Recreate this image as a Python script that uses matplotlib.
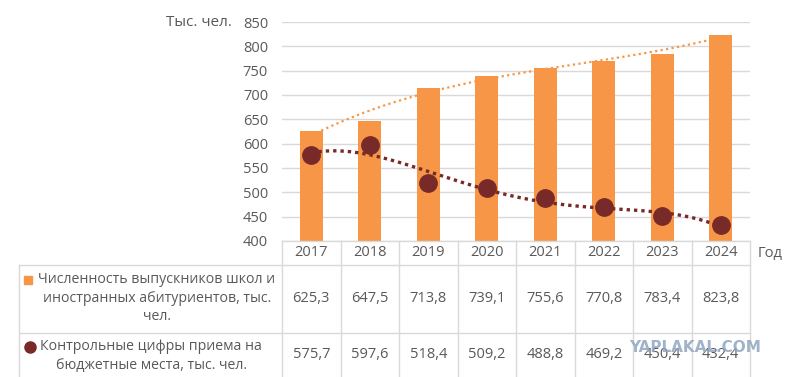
import numpy as np
import matplotlib
matplotlib.use("Agg")
import matplotlib.pyplot as plt
from matplotlib.lines import Line2D
from matplotlib.patches import Rectangle

plt.rcParams['font.family'] = ['Open Sans', 'DejaVu Sans']

years = ["2017", "2018", "2019", "2020", "2021", "2022", "2023", "2024"]
graduates = [625.3, 647.5, 713.8, 739.1, 755.6, 770.8, 783.4, 823.8]
budget = [575.7, 597.6, 518.4, 509.2, 488.8, 469.2, 450.4, 432.4]
yticks = [400, 450, 500, 550, 600, 650, 700, 750, 800, 850]
label_grad = "Численность выпускников школ и\nиностранных абитуриентов, тыс.\nчел."
label_budget = "Контрольные цифры приема на\nбюджетные места, тыс. чел."

BAR = "#F79646"
DOT = "#772A28"
TXT = "#595959"
GRID = "#D9D9D9"

W, H = 788, 377
fig = plt.figure(figsize=(W / 100, H / 100), dpi=100)

def fx(px):
    return px / W

def fy(py):
    return 1 - py / H

x0, x1, ytop, ybot = 282, 750, 22, 241
ax = fig.add_axes([fx(x0), fy(ybot), fx(x1) - fx(x0), fy(ytop) - fy(ybot)])
n = len(years)
x = np.arange(n)
ax.set_xlim(-0.5, n - 0.5)
ax.set_ylim(400, 850)
ax.set_yticks(yticks)
ax.yaxis.grid(True, color=GRID, lw=1)
ax.set_axisbelow(True)
for s in ax.spines.values():
    s.set_visible(False)
ax.tick_params(axis='y', length=0, labelsize=10.5, labelcolor=TXT, pad=10)
ax.tick_params(axis='x', length=0, labelbottom=False)

xs = np.linspace(0, n - 1, 200)
pg = np.polyfit(x, graduates, 3)
ax.plot(xs, np.polyval(pg, xs), color=BAR, lw=1.6, ls=(0, (1, 1.5)), zorder=1.5)
ax.bar(x, graduates, width=0.4, color=BAR, zorder=2)
pb = np.polyfit(x, budget, 4)
ax.plot(xs, np.polyval(pb, xs), color=DOT, lw=2.4, ls=(0, (1, 1.2)), zorder=3)
ax.plot(x, budget, 'o', color=DOT, ms=12.5, zorder=4, clip_on=False)

fig.text(fx(232), fy(22), "Тыс. чел.", ha='right', va='center', fontsize=11, color=TXT)

# data table
colw = (x1 - x0) / n
def hline(y, xa, xb):
    fig.add_artist(Line2D([fx(xa), fx(xb)], [fy(y), fy(y)], color=GRID, lw=1))
def vline(xp, ya, yb):
    fig.add_artist(Line2D([fx(xp), fx(xp)], [fy(ya), fy(yb)], color=GRID, lw=1))

r0, r1, r2, r3 = 241, 265, 333, 380
hline(r0, x0, x1)
hline(r1, 19, x1)
hline(r2, 19, x1)
for i in range(n + 1):
    vline(x0 + i * colw, r0, r3)
vline(19, r1, r3)

for i, yr in enumerate(years):
    cx = x0 + (i + 0.5) * colw
    fig.text(fx(cx), fy((r0 + r1) / 2), yr, ha='center', va='center', fontsize=10.5, color=TXT)
    fig.text(fx(cx), fy((r1 + r2) / 2), f"{graduates[i]:.1f}".replace('.', ','),
             ha='center', va='center', fontsize=10.5, color=TXT)
    fig.text(fx(cx), fy((r2 + 377) / 2), f"{budget[i]:.1f}".replace('.', ','),
             ha='center', va='center', fontsize=10.5, color=TXT)

fig.text(fx(770), fy((r0 + r1) / 2), "Год", ha='center', va='center', fontsize=10.5, color=TXT)

fig.text(fx(157), fy(298), label_grad, ha='center', va='center', multialignment='center',
         fontsize=10.2, color=TXT, linespacing=1.35)
fig.add_artist(Rectangle((fx(24), fy(284)), fx(8), fy(276) - fy(284), color=BAR, transform=fig.transFigure))
fig.text(fx(151), fy(356), label_budget, ha='center', va='center', multialignment='center',
         fontsize=10.2, color=TXT, linespacing=1.35)
fig.add_artist(Line2D([fx(30)], [fy(347)], marker='o', ms=8, color=DOT, transform=fig.transFigure))

fig.text(fx(695), fy(347), "YAPLAKAL.COM", ha='center', va='center', fontsize=11,
         family='DejaVu Sans', fontweight='bold', color="#8FA6C0", alpha=0.85)

fig.savefig("out.png", dpi=100)
